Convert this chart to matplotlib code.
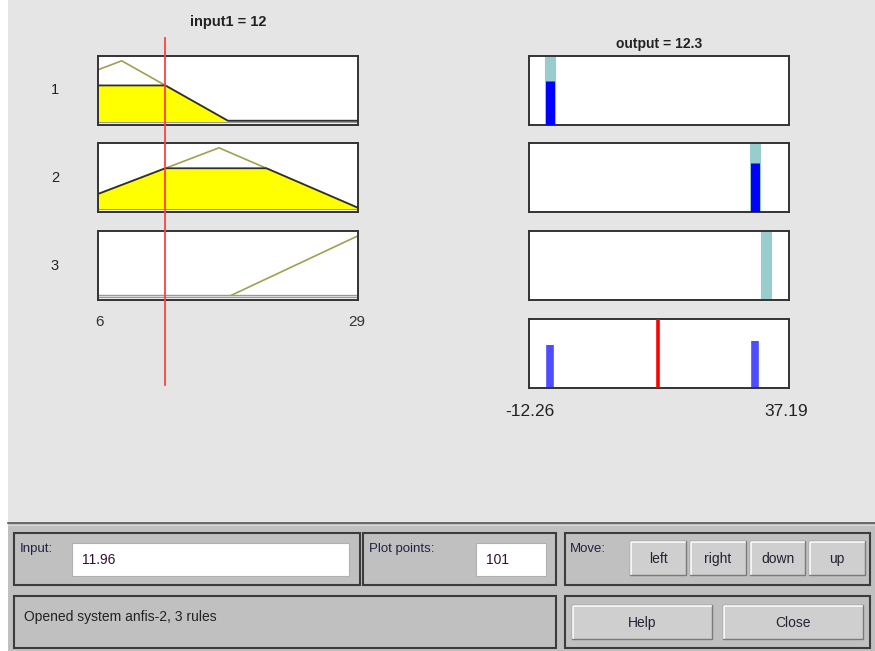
import numpy as np
import matplotlib
matplotlib.use("Agg")
import matplotlib.pyplot as plt
from matplotlib.patches import Rectangle
from matplotlib.lines import Line2D
from matplotlib.transforms import blended_transform_factory

plt.rcParams['font.family'] = ['Liberation Sans', 'DejaVu Sans']

# ---------------------------------------------------------------
# data read off the rule viewer
# ---------------------------------------------------------------
in_range = [6, 29]
out_range = [-12.26, 37.19]
input_val = 11.96
output_val = 12.3

# input membership functions (x, mu) polylines
mf_x = [[6, 8.1, 17.5, 29],
        [6, 16.7, 29],
        [6, 17.7, 29]]
mf_y = [[0.85, 1.0, 0.0, 0.0],
        [0.23, 1.0, 0.0],
        [0.0, 0.0, 1.0]]

# sugeno constant outputs per rule
rule_out = [-8.3, 30.7, 32.8]
rule_labels = ['1', '2', '3']

W, H = 875, 651
fig = plt.figure(figsize=(W / 100, H / 100), dpi=100)
fig.patch.set_facecolor('white')

bg = fig.add_axes([0, 0, 1, 1], zorder=0)
bg.set_xlim(0, W)
bg.set_ylim(H, 0)
bg.axis('off')


def px_axes(x0, y0, x1, y1):
    return fig.add_axes([x0 / W, 1 - y1 / H, (x1 - x0) / W, (y1 - y0) / H], zorder=2)


# window background
bg.add_patch(Rectangle((8, 0), W - 8, H, facecolor='#e5e5e5', edgecolor='none'))
bg.add_patch(Rectangle((8, 523), W - 8, H - 523, facecolor='#c0c0c0', edgecolor='none'))
bg.plot([8, W], [523, 523], color='#555555', lw=1.2)
bg.plot([8, W], [525, 525], color='#d8d8d8', lw=0.8)

box_y = [(56, 125), (143, 212), (231, 300)]
edge = '#333333'


def style_box(ax):
    ax.set_xticks([])
    ax.set_yticks([])
    ax.set_facecolor('white')
    for s in ax.spines.values():
        s.set_color(edge)
        s.set_linewidth(1.4)


# ---------------- input column ----------------
in_axes = []
for i, (y0, y1) in enumerate(box_y):
    ax = px_axes(98, y0, 358, y1)
    style_box(ax)
    ax.set_xlim(in_range)
    ax.set_ylim(-0.07, 1.08)
    xs = np.linspace(in_range[0], in_range[1], 400)
    mu = np.interp(xs, mf_x[i], mf_y[i])
    fire = np.interp(input_val, mf_x[i], mf_y[i])
    clipped = np.minimum(mu, fire)
    ax.plot(mf_x[i], mf_y[i], color='#a0a050', lw=1.2, zorder=1)
    ax.axhline(0, color='#999999', lw=2.4, zorder=1.5)
    ax.axhline(0, color='#e6e6e6', lw=0.6, zorder=1.6)
    if fire > 0:
        ax.fill_between(xs, 0, clipped, color='#ffff00', zorder=2)
        ax.plot(xs, clipped, color='#303030', lw=1.3, zorder=3)
    bg.text(55, (y0 + y1) / 2, rule_labels[i], ha='center', va='center', fontsize=10.5, color='#222222')
    in_axes.append(ax)

bg.text(228, 22, 'input1 = %d' % round(input_val), ha='center', va='center',
        fontsize=10.5, fontweight='bold', color='#222222')
bg.text(100, 322, str(in_range[0]), ha='center', va='center', fontsize=11, color='#333333')
bg.text(357, 322, str(in_range[1]), ha='center', va='center', fontsize=11, color='#333333')

# red input line across the column
tr = blended_transform_factory(in_axes[0].transData, bg.transData)
fig.add_artist(Line2D([input_val, input_val], [38, 385], transform=tr,
                      color='#ff4040', lw=1.3, zorder=5, clip_on=False))

# ---------------- output column ----------------
fires = [float(np.interp(input_val, mf_x[i], mf_y[i])) for i in range(3)]
for i, (y0, y1) in enumerate(box_y):
    ax = px_axes(529, y0, 789, y1)
    style_box(ax)
    ax.set_xlim(out_range)
    ax.set_ylim(-0.02, 1.0)
    ax.plot([rule_out[i], rule_out[i]], [-0.02, 1.0], color='#99cccc', lw=8,
            solid_capstyle='butt', zorder=2)
    if fires[i] > 0:
        ax.plot([rule_out[i], rule_out[i]], [-0.02, fires[i] + 0.04], color='#0000ff', lw=6.5,
                solid_capstyle='butt', zorder=3)

agg = px_axes(529, 319, 789, 388)
style_box(agg)
agg.set_xlim(out_range)
agg.set_ylim(-0.02, 1.0)
for i in range(3):
    if fires[i] > 0:
        agg.plot([rule_out[i], rule_out[i]], [-0.02, fires[i] + 0.02], color='#4d4dff', lw=5.5,
                 solid_capstyle='butt', zorder=2)
agg.plot([output_val, output_val], [-0.02, 1.0], color='#ff0000', lw=2.6,
         solid_capstyle='butt', zorder=3)

bg.text(659, 44, 'output = %.1f' % output_val, ha='center', va='center',
        fontsize=10, fontweight='bold', color='#222222')
bg.text(530, 412, '%.2f' % out_range[0], ha='center', va='center', fontsize=12.5, color='#222222')
bg.text(786, 412, '%.2f' % out_range[1], ha='center', va='center', fontsize=12.5, color='#222222')

# ---------------- control panel ----------------
def panel(x0, y0, x1, y1):
    bg.add_patch(Rectangle((x0, y0), x1 - x0, y1 - y0, facecolor='#c0c0c0',
                           edgecolor='#3c3c3c', lw=1.5))


def field(x0, y0, x1, y1, txt):
    bg.add_patch(Rectangle((x0, y0), x1 - x0, y1 - y0, facecolor='white',
                           edgecolor='#b0b0b0', lw=0.8))
    bg.text(x0 + 10, (y0 + y1) / 2 + 1, txt, ha='left', va='center', fontsize=10, color='#301030')


def button(x0, y0, x1, y1, txt):
    bg.add_patch(Rectangle((x0, y0), x1 - x0, y1 - y0, facecolor='#cfcfcf',
                           edgecolor='#7a7a7a', lw=1.0))
    bg.plot([x0 + 1, x0 + 1, x1 - 1], [y1 - 1, y0 + 1, y0 + 1], color='white', lw=1.2)
    bg.text((x0 + x1) / 2, (y0 + y1) / 2 + 1, txt, ha='center', va='center', fontsize=10, color='#222233')


panel(14, 533, 360, 585)
bg.text(20, 549, 'Input:', ha='left', va='center', fontsize=9.5, color='#222244')
field(72, 543, 349, 576, '%.2f' % input_val)

panel(363, 533, 556, 585)
bg.text(369, 549, 'Plot points:', ha='left', va='center', fontsize=9.5, color='#222244')
field(476, 543, 546, 576, '101')

panel(565, 533, 870, 585)
bg.text(570, 549, 'Move:', ha='left', va='center', fontsize=9.5, color='#222244')
button(630, 541, 686, 575, 'left')
button(690, 541, 746, 575, 'right')
button(750, 541, 805, 575, 'down')
button(809, 541, 865, 575, 'up')

panel(14, 596, 556, 648)
bg.text(24, 617, 'Opened system anfis-2, 3 rules', ha='left', va='center', fontsize=10, color='#222222')

panel(565, 596, 870, 648)
button(572, 605, 712, 639, 'Help')
button(723, 605, 863, 639, 'Close')

fig.savefig('out.png', dpi=100, facecolor=fig.get_facecolor())
